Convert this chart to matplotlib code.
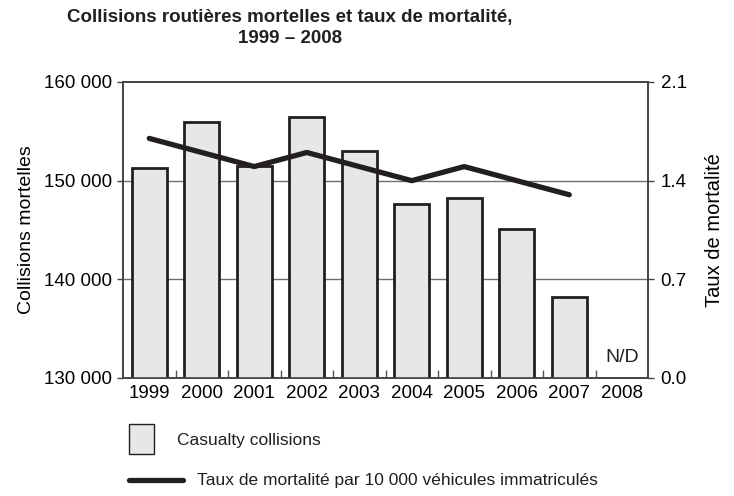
import matplotlib.pyplot as plt
import numpy as np
from matplotlib.patches import Rectangle
from matplotlib.lines import Line2D

plt.rcParams['font.family'] = ['Liberation Sans', 'DejaVu Sans']

# donnees
years = ["1999", "2000", "2001", "2002", "2003", "2004", "2005", "2006", "2007", "2008"]
collisions = [151300, 155900, 151450, 156450, 153050, 147650, 148200, 145150, 138250]
taux = [1.70, 1.60, 1.50, 1.60, 1.50, 1.40, 1.50, 1.40, 1.30]

dark = "#231f20"
fill = "#e6e7e8"

fig = plt.figure(figsize=(7.34, 4.96), dpi=100)
ax = fig.add_axes([123 / 734, 1 - 378 / 496, 525 / 734, 296 / 496])

x = np.arange(len(years))
ax.bar(x[:len(collisions)], collisions, width=0.67, color=fill, edgecolor=dark,
       linewidth=2, zorder=3)
ax.set_ylim(130000, 160000)
ax.set_xlim(-0.5, len(years) - 0.5)
ax.set_yticks([130000, 140000, 150000, 160000])
ax.set_yticklabels(["130 000", "140 000", "150 000", "160 000"], fontsize=13.5)
ax.set_xticks(x)
ax.set_xticklabels(years, fontsize=13.5)
ax.tick_params(axis="x", length=0, pad=5)
ax.tick_params(axis="y", length=4, width=1, color="#444444", pad=4)
ax.set_xticks(x[:-1] + 0.5, minor=True)
ax.tick_params(axis="x", which="minor", direction="in", length=6, width=1, color="#555555")
for v in [140000, 150000]:
    ax.axhline(v, color="#6d6e70", linewidth=1, zorder=1)
for s in ax.spines.values():
    s.set_color("#444444")
    s.set_linewidth(1.2)
ax.set_ylabel("Collisions mortelles", fontsize=14, labelpad=6)
ax.text(len(years) - 1, 131200, "N/D", ha="center", va="bottom", fontsize=14, color=dark)

ax2 = ax.twinx()
ax2.plot(x[:len(taux)], taux, color=dark, linewidth=3.8, solid_capstyle="round", zorder=5)
ax2.set_ylim(0, 2.1)
ax2.set_yticks([0.0, 0.7, 1.4, 2.1])
ax2.set_yticklabels(["0.0", "0.7", "1.4", "2.1"], fontsize=13.5)
ax2.tick_params(axis="y", length=4, width=1, color="#444444", pad=5)
ax2.set_ylabel("Taux de mortalité", fontsize=14.5, labelpad=13)
for s in ax2.spines.values():
    s.set_color("#444444")
    s.set_linewidth(1.2)

fig.suptitle("Collisions routières mortelles et taux de mortalité,\n1999 – 2008",
             x=290 / 734, y=1 - 9 / 496, va="top", fontsize=13.5, fontweight="bold",
             color=dark, linespacing=1.3)

# legende
fig.patches.append(Rectangle((129 / 734, 1 - 454 / 496), 25 / 734, 30 / 496,
                             transform=fig.transFigure, facecolor=fill,
                             edgecolor=dark, linewidth=1))
fig.text(177 / 734, 1 - 440 / 496, "Casualty collisions", fontsize=12.5,
         va="center", color=dark)
fig.lines.append(Line2D([129 / 734, 183 / 734], [1 - 480 / 496, 1 - 480 / 496],
                        transform=fig.transFigure, color=dark, linewidth=3.8,
                        solid_capstyle="round"))
fig.text(197 / 734, 1 - 480 / 496, "Taux de mortalité par 10 000 véhicules immatriculés",
         fontsize=12.5, va="center", color=dark)

fig.savefig("out.png", dpi=100)
